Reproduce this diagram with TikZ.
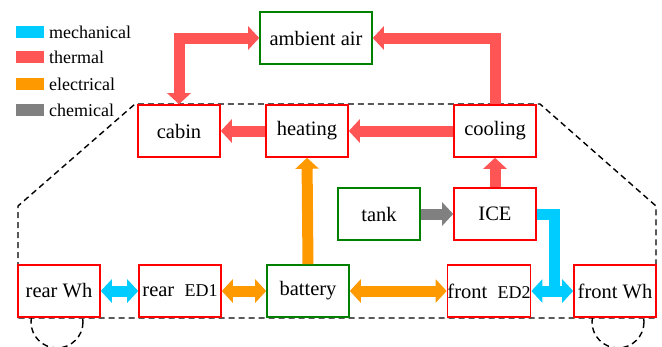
\documentclass[tikz,border=0pt]{standalone}
\usepackage{fontspec}
\setmainfont{Liberation Serif}
\usetikzlibrary{arrows.meta}
\definecolor{thermc}{RGB}{255,85,85}
\definecolor{mechc}{RGB}{0,204,255}
\definecolor{elecc}{RGB}{255,153,0}
\definecolor{chemc}{RGB}{128,128,128}
\definecolor{redc}{RGB}{255,0,0}
\definecolor{greenc}{RGB}{0,128,0}
\begin{document}
\begin{tikzpicture}[x=1pt,y=-1pt,
  box/.style={draw,line width=1.6pt,fill=white,minimum width=82pt,minimum height=52pt,inner sep=0pt,font=\fontsize{20.5}{24}\selectfont},
  rbox/.style={box,draw=redc},
  gbox/.style={box,draw=greenc},
  flow/.style={line width=11pt,line join=miter,line cap=butt,arrows={-{Triangle[width=23pt,length=11pt]}}},
  dflow/.style={flow,arrows={{Triangle[width=23pt,length=11pt]}-{Triangle[width=23pt,length=11pt]}}},
  outline/.style={dashed,dash pattern=on 6pt off 4pt,line width=1.4pt,black},
  legtext/.style={anchor=west,inner sep=0pt,font=\fontsize{18}{20}\selectfont}]
\useasboundingbox (0,0) rectangle (662,346);
% car outline
\draw[outline] (18,318) -- (18,206) -- (135,104) -- (540,104) -- (656,206) -- (656,318) -- cycle;
\draw[outline] (57,322) circle (26);
\draw[outline] (618,322) circle (26);
% nodes
\node[gbox,minimum width=112pt] (amb) at (316,38) {ambient air};
\node[rbox] (cabin) at (179,131) {cabin};
\node[rbox] (heat) at (307,131) {heating};
\node[rbox] (cool) at (495,131) {cooling};
\node[gbox] (tank) at (379,214) {tank};
\node[rbox] (ice) at (495,214) {ICE};
\node[rbox] (rwh) at (59,291) {rear Wh};
\node[rbox] (red1) at (180,291) {rear\ \ {\fontsize{18}{20}\selectfont ED1}};
\node[gbox] (bat) at (308,291) {battery};
\node[rbox] (fed2) at (489,291) {front\ \ {\fontsize{18}{20}\selectfont ED2}};
\node[rbox] (fwh) at (615,291) {front Wh};
\coordinate (j) at (554,291);
% thermal
\draw[dflow,thermc] (cabin.north) |- (amb.west);
\draw[flow,thermc] (cool.north) |- (amb.east);
\draw[flow,thermc] (cool.west) -- (heat.east);
\draw[flow,thermc] (heat.west) -- (cabin.east);
\draw[flow,thermc] (ice.north) -- (cool.south);
% electrical
\draw[flow,elecc] (bat.north) -- (heat.south);
\draw[dflow,elecc] (red1.east) -- (bat.west);
\draw[dflow,elecc] (bat.east) -- (fed2.west);
% chemical
\draw[flow,chemc] (tank.east) -- (ice.west);
% mechanical
\draw[dflow,mechc] (rwh.east) -- (red1.west);
\draw[mechc,line width=11pt,line join=miter] (ice.east) -| (j);
\draw[dflow,mechc] (fed2.east) -- (fwh.west);
% legend
\fill[mechc] (16,26) rectangle (44,38);
\node[legtext] (l1) at (49,32) {mechanical};
\fill[thermc] (16,51) rectangle (44,63);
\node[legtext] (l2) at (49,57) {thermal};
\fill[elecc] (16,78) rectangle (44,90);
\node[legtext] (l3) at (49,84) {electrical};
\fill[chemc] (16,104) rectangle (44,116);
\node[legtext] (l4) at (49,110) {chemical};
\end{tikzpicture}
\end{document}
